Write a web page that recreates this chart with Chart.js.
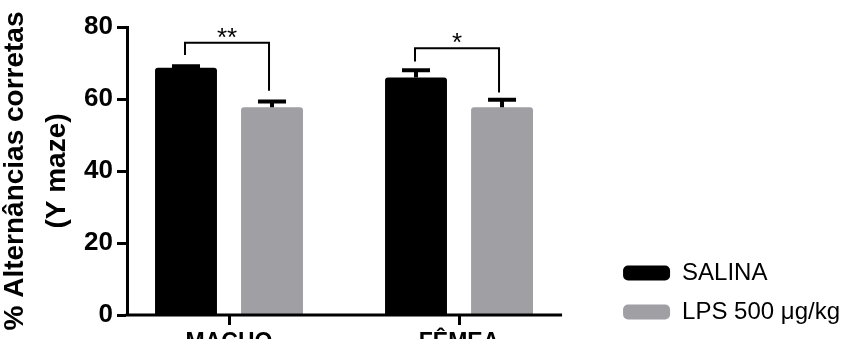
<!DOCTYPE html>
<html>
<head>
<meta charset="utf-8">
<script src="https://cdn.jsdelivr.net/npm/chart.js@4.4.1/dist/chart.umd.min.js"></script>
<style>
  body { margin: 0; background: #fff; overflow: hidden; }
  canvas { display: block; }
</style>
</head>
<body>
<canvas id="yMazeChart" width="850" height="356"></canvas>
<script>
// Données
const categories = ['MACHO', 'FÊMEA'];
const salinaMean = [68.7, 66.0];
const salinaSem = [0.4, 2.0];
const lpsMean = [57.7, 57.7];
const lpsSem = [1.6, 2.1];
const yTicks = [0, 20, 40, 60, 80];

// Crochets de significativité
const bracketTop = [75.6, 74.1];
const bracketLeftEnd = [72.2, 70.4];
const bracketRightEnd = [62.3, 61.8];
const starLabels = ['**', '*'];

const FONT = "'Liberation Sans', Arial, sans-serif";
const xMin = -0.4435;
const xMax = 1.648;
const xAxisEnd = 1.448;

// Barres d'erreur, axe X et crochets
const annotations = {
  id: 'annotations',
  afterDatasetsDraw(chart) {
    const ctx = chart.ctx;
    const x = chart.scales.x;
    const y = chart.scales.y;
    const sems = [salinaSem, lpsSem];
    const means = [salinaMean, lpsMean];

    ctx.save();
    ctx.strokeStyle = '#000';
    ctx.lineCap = 'butt';

    sems.forEach((sem, d) => {
      chart.getDatasetMeta(d).data.forEach((bar, i) => {
        const top = y.getPixelForValue(means[d][i] + sem[i]);
        ctx.lineWidth = 4;
        ctx.beginPath();
        ctx.moveTo(bar.x, bar.y);
        ctx.lineTo(bar.x, top);
        ctx.moveTo(bar.x - 14, top);
        ctx.lineTo(bar.x + 14, top);
        ctx.stroke();
      });
    });

    // axe X
    ctx.lineWidth = 3;
    ctx.beginPath();
    ctx.moveTo(chart.chartArea.left - 1.5, y.getPixelForValue(0));
    ctx.lineTo(x.getPixelForValue(xAxisEnd), y.getPixelForValue(0));
    ctx.stroke();

    // crochets
    const blackBars = chart.getDatasetMeta(0).data;
    const grayBars = chart.getDatasetMeta(1).data;
    ctx.lineWidth = 2;
    ctx.fillStyle = '#000';
    ctx.font = '26px ' + FONT;
    ctx.textAlign = 'center';
    ctx.textBaseline = 'alphabetic';
    categories.forEach((c, i) => {
      const x1 = blackBars[i].x - 1;
      const x2 = grayBars[i].x - 3;
      const yt = y.getPixelForValue(bracketTop[i]);
      ctx.beginPath();
      ctx.moveTo(x1, y.getPixelForValue(bracketLeftEnd[i]));
      ctx.lineTo(x1, yt);
      ctx.lineTo(x2, yt);
      ctx.lineTo(x2, y.getPixelForValue(bracketRightEnd[i]));
      ctx.stroke();
      ctx.fillText(starLabels[i], (x1 + x2) / 2, yt + 3);
    });
    ctx.restore();
  }
};

const ctx = document.getElementById('yMazeChart').getContext('2d');
new Chart(ctx, {
  type: 'bar',
  data: {
    datasets: [{
      label: 'SALINA',
      data: salinaMean.map((v, i) => ({ x: i, y: v })),
      backgroundColor: '#000000',
      borderWidth: 0,
      borderRadius: { topLeft: 3, topRight: 3 },
      borderSkipped: 'start',
      categoryPercentage: 0.748,
      barPercentage: 0.72
    }, {
      label: 'LPS 500 \u03bcg/kg',
      data: lpsMean.map((v, i) => ({ x: i, y: v })),
      backgroundColor: '#a09fa4',
      borderWidth: 0,
      borderRadius: { topLeft: 3, topRight: 3 },
      borderSkipped: 'start',
      categoryPercentage: 0.748,
      barPercentage: 0.72
    }]
  },
  options: {
    responsive: false,
    animation: false,
    layout: { padding: { top: 27, bottom: 17, left: 0, right: 0 } },
    plugins: {
      tooltip: { enabled: false },
      legend: {
        position: 'right',
        align: 'end',
        maxWidth: 249,
        labels: {
          boxWidth: 47,
          boxHeight: 15,
          useBorderRadius: true,
          borderRadius: 5,
          padding: 15,
          color: '#000',
          font: { family: FONT, size: 24 }
        }
      }
    },
    scales: {
      x: {
        type: 'linear',
        min: xMin,
        max: xMax,
        offset: false,
        afterBuildTicks(scale) {
          scale.ticks = categories.map((c, i) => ({ value: i }));
        },
        afterFit(scale) {
          scale.height = 24;
        },
        border: { display: false },
        grid: {
          offset: false,
          drawOnChartArea: false,
          drawTicks: true,
          tickLength: 10,
          tickWidth: 3,
          color: '#000'
        },
        ticks: {
          autoSkip: false,
          maxRotation: 0,
          padding: 4,
          color: '#000',
          font: { family: FONT, size: 23, weight: 'bold' },
          callback: (v) => categories[v]
        }
      },
      y: {
        min: 0,
        max: 80,
        afterBuildTicks(scale) {
          scale.ticks = yTicks.map(v => ({ value: v }));
        },
        afterFit(scale) {
          scale.width = 127;
        },
        border: { display: true, width: 3, color: '#000' },
        grid: {
          drawOnChartArea: false,
          drawTicks: true,
          tickLength: 10,
          tickWidth: 3,
          color: '#000'
        },
        ticks: {
          padding: 4,
          color: '#000',
          font: { family: FONT, size: 26, weight: 'bold' }
        },
        title: {
          display: true,
          text: ['% Altern\u00e2ncias corretas', '(Y maze)'],
          color: '#000',
          padding: { top: -6, bottom: 0 },
          font: { family: FONT, size: 28, weight: 'bold', lineHeight: 1.5 }
        }
      }
    }
  },
  plugins: [annotations]
});
</script>
</body>
</html>
